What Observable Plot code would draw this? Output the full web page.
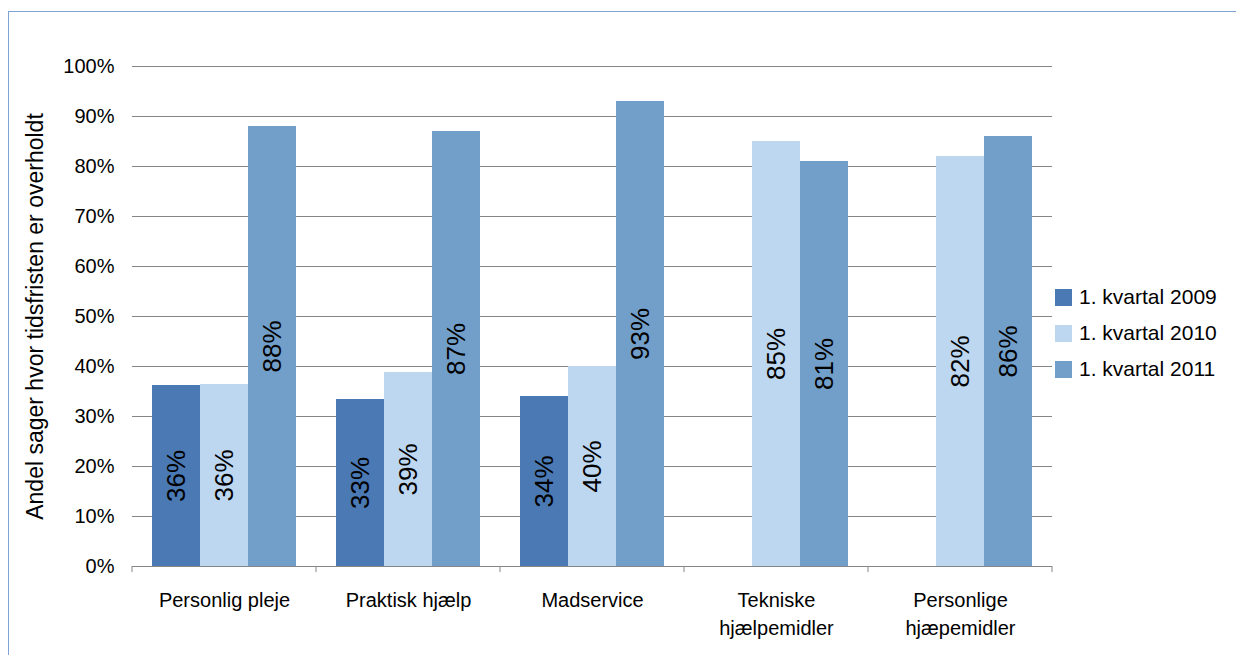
<!DOCTYPE html>
<html>
<head>
<meta charset="utf-8">
<script src="https://cdn.jsdelivr.net/npm/d3@7"></script>
<script src="https://cdn.jsdelivr.net/npm/@observablehq/plot@0.6"></script>
<style>
  html, body { margin: 0; padding: 0; background: #fff; overflow: hidden; }
  #wrap { position: relative; width: 1236px; height: 655px; overflow: hidden; font-family: "Liberation Sans", Arial, sans-serif; }
  #frame { position: absolute; left: 8px; top: 11px; width: 1300px; height: 720px; border: 1.5px solid #7fa3d6; box-sizing: border-box; }
  #chart { position: absolute; left: 0; top: 0; }
  #legend { position: absolute; left: 1055px; top: 279px; font-size: 21px; color: #000; }
  #legend .row { display: flex; align-items: center; height: 36px; white-space: nowrap; }
  #legend .sw { width: 17px; height: 17px; margin-right: 7px; flex: none; }
</style>
</head>
<body>
<div id="wrap">
  <div id="frame"></div>
  <div id="chart"></div>
  <div id="legend"></div>
</div>
<script>
// Categories (x groups) and series (bars within each group)
const categories = ["Personlig pleje", "Praktisk hjælp", "Madservice", "Tekniske\nhjælpemidler", "Personlige\nhjæpemidler"];
const series = ["1. kvartal 2009", "1. kvartal 2010", "1. kvartal 2011"];

// Share of cases where the deadline was met, per quarter
const values2009 = [0.362, 0.334, 0.34, null, null];
const values2010 = [0.364, 0.388, 0.40, 0.85, 0.82];
const values2011 = [0.88, 0.87, 0.93, 0.81, 0.86];

const yTicks = [0, 0.1, 0.2, 0.3, 0.4, 0.5, 0.6, 0.7, 0.8, 0.9, 1];
const colors = ["#4a79b4", "#bdd7f0", "#729fc9"];
const yTitle = "Andel sager hvor tidsfristen er overholdt";

const seriesValues = [values2009, values2010, values2011];
const rows = categories.flatMap((category, i) =>
  series.map((s, j) => ({category, series: s, value: seriesValues[j][i]}))
).filter(d => d.value != null);

const pct = d3.format(".0%");
const gridColor = "#868686";

const chart = Plot.plot({
  width: 1236,
  height: 655,
  marginLeft: 132,
  marginRight: 184,
  marginTop: 66,
  marginBottom: 89,
  style: {fontFamily: "'Liberation Sans', Arial, sans-serif", fontSize: "20px", color: "#000", background: "transparent"},
  fx: {domain: categories, padding: 0},
  x: {domain: series, paddingInner: 0, paddingOuter: 0.405, axis: null},
  y: {domain: [0, 1]},
  color: {domain: series, range: colors},
  marks: [
    Plot.gridY(yTicks, {stroke: gridColor, strokeOpacity: 1}),
    Plot.axisY(yTicks, {tickFormat: pct, tickSize: 0, tickPadding: 18, fontSize: 20, label: null}),
    Plot.axisY([], {label: yTitle, labelAnchor: "center", labelArrow: "none", labelOffset: 106, fontSize: 23, tickSize: 0}),
    Plot.axisFx({anchor: "bottom", tickSize: 0, tickPadding: 21, fontSize: 20, lineHeight: 1.38, label: null}),
    Plot.barY(rows, {fx: "category", x: "series", y: "value", fill: "series"}),
    Plot.ruleY([0], {stroke: gridColor}),
    Plot.text(rows, {
      fx: "category", x: "series", y: d => d.value / 2,
      text: d => pct(d.value), rotate: -90, fontSize: 26, fill: "#000"
    })
  ]
});

document.getElementById("chart").appendChild(chart);

// Short ticks at the boundaries between category groups
const fx = chart.scale("fx");
const y0 = chart.scale("y").apply(0);
const edges = categories.map(c => fx.apply(c));
edges.push(fx.apply(categories[categories.length - 1]) + fx.bandwidth);
d3.select(chart).append("g")
  .attr("stroke", gridColor)
  .selectAll("line")
  .data(edges)
  .join("line")
  .attr("x1", d => d).attr("x2", d => d)
  .attr("y1", y0).attr("y2", y0 + 6);

// Legend
const legend = d3.select("#legend");
series.forEach((s, i) => {
  const row = legend.append("div").attr("class", "row");
  row.append("div").attr("class", "sw").style("background", colors[i]);
  row.append("span").text(s);
});
</script>
</body>
</html>
